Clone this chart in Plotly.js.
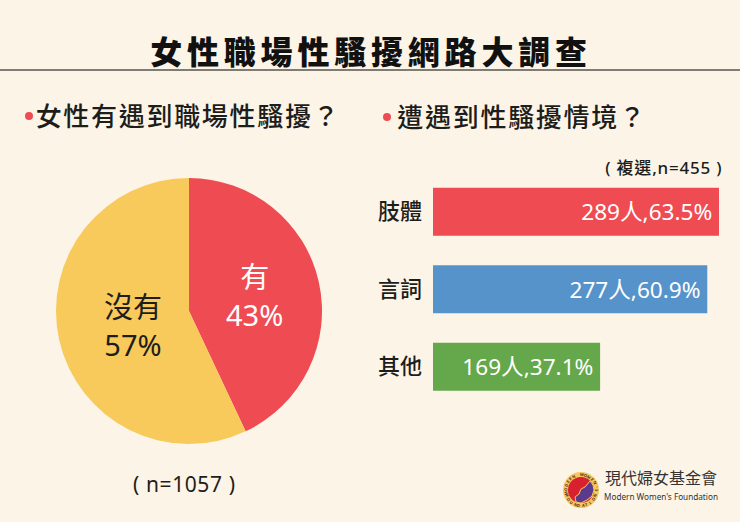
<!DOCTYPE html>
<html><head><meta charset="utf-8">
<script src="https://cdn.plot.ly/plotly-3.0.1.min.js"></script>
<style>
html,body{margin:0;padding:0;background:#fcf4e6;overflow:hidden}
#chart{width:740px;height:522px}
.annotation[data-index="0"] text{letter-spacing:4.8px}
.annotation[data-index="1"] text,.annotation[data-index="2"] text{letter-spacing:1.7px}
.annotation[data-index="3"] text{letter-spacing:0.8px}
.annotation[data-index="4"] text{letter-spacing:0.6px}
</style></head><body><div id="chart"></div>
<script>
const FONT='"Noto Sans","Noto Sans CJK TC",sans-serif';
const INK='#1d1d1b';
const pieLabels=['有','沒有'];
const pieValues=[43,57];
const pieColors=['#ef4b53','#f8ca5b'];
const pieTextColors=['#ffffff','#1d1d1b'];
const barCategories=['肢體','言詞','其他'];
const barPercents=[63.5,60.9,37.1];
const barCounts=[289,277,169];
const barColors=['#ef4b53','#5793cb','#64a84b'];
const ringTop='MODERN WOMEN\'S';
const ringBottom='FOUNDATION';
const W=740,H=522;
const px=x=>x/W, py=y=>1-y/H;

function text(t,x,y,size,opts){
  return Object.assign({text:t,x:px(x),y:py(y),xref:'paper',yref:'paper',showarrow:false,
    xanchor:'center',yanchor:'middle',font:{family:FONT,size:size,color:INK}},opts||{});
}
const annotations=[
  text('女性職場性騷擾網路大調查',371,51,32,{font:{family:FONT,size:32,color:'#111',weight:900}}),
  text('女性有遇到職場性騷擾？',43,116,26,{xanchor:'left',font:{family:FONT,size:26,color:INK,weight:500}}),
  text('遭遇到性騷擾情境？',403,117,26,{xanchor:'left',font:{family:FONT,size:26,color:INK,weight:500}}),
  text('(\u00a0複選,n=455\u00a0)',664,167,17,{font:{family:FONT,size:17,color:INK,weight:500}}),
  text('(\u00a0n=1057\u00a0)',184,484,21,{}),
  text(pieLabels[0]+'<br>'+pieValues[0]+'%',254,295,29,{font:{family:FONT,size:29,color:pieTextColors[0]}}),
  text(pieLabels[1]+'<br>'+pieValues[1]+'%',133,325,29,{font:{family:FONT,size:29,color:pieTextColors[1]}}),
  text('現代婦女基金會',661,478,16,{font:{family:FONT,size:16,color:'#333'}}),
  text('Modern Women\'s Foundation',661,496,8.2,{font:{family:'"Noto Sans",sans-serif',size:8.2,color:'#333'}})
];
function ring(str,midDeg,stepDeg,bottom){
  const cx=581,cy=490,r=15.4;
  [...str].forEach((ch,i)=>{
    const off=(i-(str.length-1)/2)*stepDeg*(bottom?-1:1);
    const a=(midDeg+off)*Math.PI/180;
    annotations.push(text(ch===' '?'\u00a0':ch,cx+r*Math.sin(a),cy-r*Math.cos(a),4,
      {textangle:off,font:{family:FONT,size:4,color:'#5b2a1a',weight:700}}));
  });
}
ring(ringTop,-5,15,false);
ring(ringBottom,180,15,true);
function circle(cx,cy,r,color){
  return {type:'circle',xref:'paper',yref:'paper',x0:px(cx-r),x1:px(cx+r),y0:py(cy+r),y1:py(cy-r),
    fillcolor:color,line:{width:0},layer:'above'};
}
function poly(points,color,lineColor){
  const d=points.map((p,i)=>(i?'L':'M')+px(p[0])+','+py(p[1])).join(' ')+' Z';
  return {type:'path',xref:'paper',yref:'paper',path:d,fillcolor:color,line:{width:lineColor?1:0,color:lineColor||color},layer:'above'};
}
const shapes=[
  {type:'line',xref:'paper',yref:'paper',x0:0,x1:1,y0:py(70),y1:py(70),line:{color:'#55544f',width:1.5}},
  circle(29,116,4,'#ef4b53'),
  circle(387,117,4,'#ef4b53'),
  circle(581,490,18,'#f3c860'),
  circle(581,490,13,'#d9202e'),
  poly([[590,481],[593,485],[594,490],[592,496],[587,500],[581,503],[576,502],[575,497],[579,494],[581,489],[585,487]],'#5b3a8e','#f3c860')
];
const pie={type:'pie',labels:pieLabels,values:pieValues,sort:false,direction:'clockwise',rotation:0,
  marker:{colors:pieColors,line:{width:0}},
  domain:{x:[px(56),px(322)],y:[py(444),py(178)]},
  textinfo:'none',hoverinfo:'label+percent',showlegend:false};
const bar={type:'bar',orientation:'h',x:barPercents,y:barCategories,width:0.62,
  marker:{color:barColors,line:{width:0}},
  text:barCounts.map((c,i)=>c+'人,'+barPercents[i].toFixed(1)+'%\u2009'),
  textposition:'inside',insidetextanchor:'end',constraintext:'none',
  textfont:{family:FONT,size:22.6,color:'#ffffff'},cliponaxis:false,showlegend:false};
const layout={width:W,height:H,margin:{l:0,r:0,t:0,b:0},paper_bgcolor:'#fcf4e6',plot_bgcolor:'rgba(0,0,0,0)',
  font:{family:FONT,color:INK},showlegend:false,
  xaxis:{domain:[px(433),1],range:[0,307/4.504],visible:false,fixedrange:true},
  yaxis:{domain:[py(405.5),py(173)],type:'category',range:[2.5,-0.5],categoryorder:'array',categoryarray:barCategories,
    anchor:'x',showgrid:false,zeroline:false,showline:false,ticks:'',ticklabelstandoff:10,tickfont:{family:FONT,size:22,color:INK,weight:500},fixedrange:true},
  shapes:shapes,annotations:annotations};
Plotly.newPlot('chart',[pie,bar],layout,{displayModeBar:false,staticPlot:true});
</script></body></html>
